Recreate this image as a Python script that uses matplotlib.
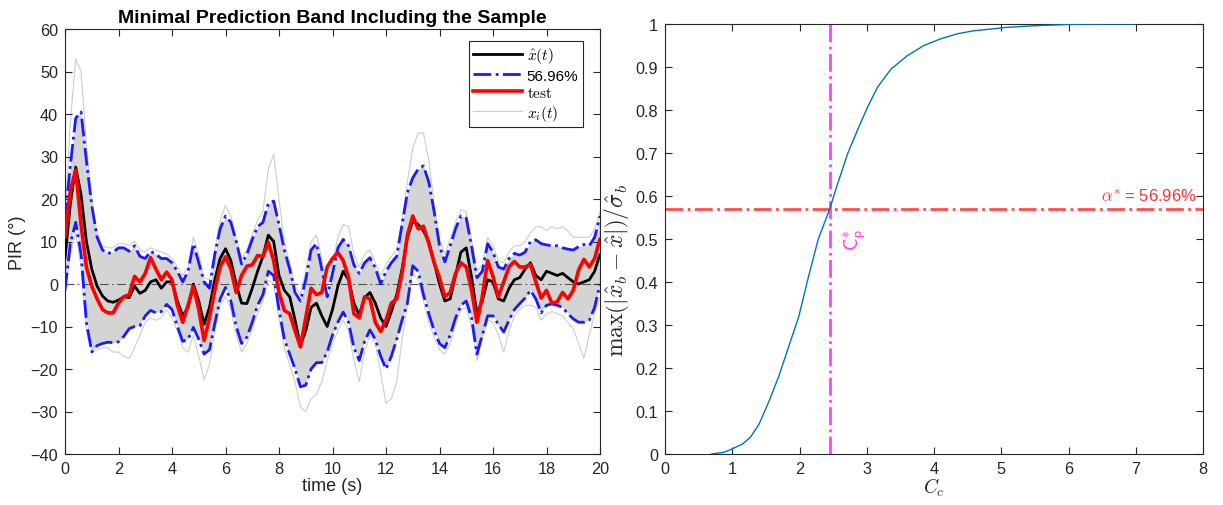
import numpy as np
import matplotlib
matplotlib.use("Agg")
import matplotlib.pyplot as plt
from matplotlib.lines import Line2D

plt.rcParams['font.family'] = ['Liberation Sans', 'DejaVu Sans']
plt.rcParams['mathtext.fontset'] = 'cm'

# ---------------- data (left panel) ----------------
time_s = np.linspace(0, 20, 101)  # sampling grid, 0.2 s

mean_x = [6, 19, 27.5, 21, 10, 3.5, -0.5, -2.8, -4, -4.3,
          -3.8, -3, -3.2, -0.5, -2.2, -1.5, 0.5, 1, -1, 0.5,
          0.5, -4, -7.5, -5.5, 0, -4, -9.5, -5.5, 1, 6,
          8.3, 5.5, 0, -4.5, -4.6, -1, 3, 6.5, 11.5, 10,
          2, -1.5, -3, -8.5, -14.5, -11, -5.5, -4.5, -7.5, -10,
          -6, -0.5, 3, 1, -4.5, -7.3, -3.2, -2, -4.5, -8,
          -10, -6.5, -2.5, 3.5, 11, 14.8, 14, 12.5, 10, 5,
          0, -4, -3.5, 2, 7.5, 8.5, 1.5, -7, -4, 1,
          0.5, -3.5, -4, -1, 1, 1.5, 3.5, 5, 2, 1,
          3, 2.5, 2, 2.5, 1.5, 0.5, 0, 0.5, 1, 3,
          7]

test_x = [11, 22, 26.8, 14, 4, -0.5, -3.5, -6, -6.8, -6.8,
          -4.5, -3, -2.5, 1.8, 0.5, 2.5, 6.2, 3.5, 1, 2.8,
          1, -5, -9, -5, -0.5, -6, -13.3, -8, -1.5, 4,
          6.4, 3.5, -2, 2, 4.2, 4.5, 6.7, 6.5, 9.8, 5.5,
          -2, -6.2, -7, -11, -14.8, -8, -1, -2.5, -2, 4,
          6, 7.4, 5.5, 1.5, -7, -8, -3, -3.5, -9, -11.2,
          -8.5, -4.5, -3.5, 2.5, 11.5, 16, 13, 13.6, 9.5, 5,
          1.5, -3, -2, 2.5, 5, 4, -1.5, -9, -3, 5.5,
          1.8, -3, 0.5, 4, 5.3, 4, 4, 4.6, 0.5, -3.3,
          -1.5, -4.5, -4.2, -2, -3.5, -1.5, 3.3, 5.8, 4, 6,
          10.6]

band_upper = [15, 28, 39, 40.5, 29, 18.5, 11, 8, 7.2, 7.5,
              8.5, 8.5, 7.7, 9, 6.5, 6, 7.7, 7, 6, 6,
              5, 3, 0.5, 3, 9.5, 5, 0.5, -1, 7, 13,
              16, 14.5, 10, 4.7, 7, 10.5, 13.5, 14.5, 19, 19.5,
              14, 8, 3.5, -2, -4, 1, 8, 9.5, 3.5, -3,
              2.5, 8.5, 10.5, 9, 4.5, 2.5, 5, 6.2, 3.8, 0,
              3, 5, 6.5, 14, 21.5, 25, 27, 27.8, 24, 17,
              9, 5.2, 9, 13, 16, 15.5, 8.8, 1.5, 3, 9.5,
              7.5, 4, 3.5, 6, 7.2, 6.8, 7.5, 10, 10.4, 9.5,
              9.2, 9, 9, 8.5, 8.2, 8, 8.8, 9.3, 9, 11,
              16]

band_lower = [-1.5, 9.5, 14.5, 7, -9, -16, -14.5, -14, -13.7, -13.8,
              -13.6, -12.3, -10.5, -10, -9.8, -7.5, -6.2, -6.8, -6.5, -4.8,
              -6, -10, -13.5, -13, -10.2, -13, -16.5, -15.5, -9.3, -3.5,
              -0.8, -4, -10, -14, -12.5, -9, -5, -2.5, 3, 2,
              -6, -13, -16.5, -20, -24.2, -23.8, -20, -18.5, -18.5, -16,
              -12, -9, -6.6, -9, -15, -18, -13.5, -10.8, -13, -17,
              -20, -17, -13, -8.5, -4.5, 4.3, 3, -2.5, -7, -11,
              -14, -15, -12, -8, -5, -4, -8, -16.5, -12, -7.5,
              -7.5, -9.5, -11.3, -8.5, -6, -4.6, -3.3, -1.5, -3.5, -6.8,
              -5, -4.7, -5, -5.5, -7, -8.2, -9, -9, -8.5, -5.5,
              0]

samples_max = [16, 38, 53, 50, 33, 20, 12, 9, 8.5, 8.5,
               9.5, 9.5, 9, 10, 8, 7.5, 8.5, 8, 7.5, 7,
               6, 4, 2, 4, 11, 7, 1.5, 1, 8, 15,
               18.5, 16, 11, 6, 8, 11.5, 15, 17, 27, 30.5,
               20, 10, 5, -0.5, -2.5, 3, 10, 11.5, 6, -1,
               5, 11, 14, 13.5, 7, 4, 7, 8, 5, 2,
               4.5, 6.5, 8, 15, 24, 32, 35.5, 35.5, 29, 19,
               10.5, 7, 10.5, 14.5, 17.5, 17, 10.5, 3, 4.5, 11,
               9, 5.5, 5, 7.5, 9, 9, 10, 12, 13.5, 13.5,
               12.5, 13.5, 13, 13.5, 12.5, 11, 11, 11, 11, 13,
               17]

samples_min = [-3, 7, 12, 4, -11, -16, -15.5, -15, -15, -16,
               -16, -17, -17.5, -15, -12, -9, -8, -8.5, -8, -6,
               -8, -11, -15, -16, -12, -17, -22.5, -19, -11, -5,
               -3, -6, -12, -16, -14, -10.5, -7, -4, 1, 0,
               -8, -15, -19, -23, -29, -30, -27, -26, -23, -18,
               -14, -11, -8.5, -11, -18, -23, -16, -12, -14, -21,
               -28, -27, -23, -13, -5, 2.5, 1, -4, -9, -12.5,
               -15.5, -16.5, -14, -9.5, -6, -5.5, -10, -18, -13, -8.5,
               -9, -12, -16, -11, -7.5, -6, -5, -5, -5.5, -8.5,
               -7, -6.5, -7, -7.5, -9, -10.5, -14, -17.5, -12, -7,
               -3]

band_label = "56.96%"

# ---------------- data (right panel) ----------------
cc_values = [0.69, 0.88, 1.0, 1.15, 1.27, 1.40, 1.54, 1.69, 1.84, 1.99,
             2.13, 2.28, 2.45, 2.57, 2.72, 2.87, 3.01, 3.16, 3.36, 3.60,
             3.85, 4.09, 4.34, 4.58, 4.83, 5.07, 5.5, 6.0, 6.5, 7.0]
coverage = [0.0, 0.004, 0.012, 0.023, 0.039, 0.07, 0.12, 0.18, 0.25, 0.32,
            0.41, 0.50, 0.57, 0.63, 0.70, 0.756, 0.806, 0.853, 0.895, 0.926,
            0.950, 0.965, 0.977, 0.984, 0.988, 0.992, 0.996, 0.999, 1.0, 1.0]
alpha_star = 0.5696
cp_star = 2.45

# ---------------- figure ----------------
fig = plt.figure(figsize=(12.23, 5.06), dpi=100)
axL = fig.add_axes([65/1223, 51/506, 535/1223, 425/506])
axR = fig.add_axes([665/1223, 51/506, 538/1223, 430/506])

tick_col = '#262626'
grey = '#cccccc'
rnd = dict(solid_joinstyle='round', solid_capstyle='round')

# left panel
axL.fill_between(time_s, band_lower, band_upper, color='#d4d4d4', lw=0, zorder=1)
axL.plot(time_s, samples_max, color=grey, lw=0.8, zorder=1.5, **rnd)
axL.plot(time_s, samples_min, color=grey, lw=0.8, zorder=1.5, **rnd)
axL.axhline(0, color='#555555', lw=0.8, ls=(0, (8, 3, 1.5, 3)), zorder=2)
axL.plot(time_s, band_upper, color='#1a1aff', lw=2, ls='-.', zorder=3)
axL.plot(time_s, band_lower, color='#1a1aff', lw=2, ls='-.', zorder=3)
axL.plot(time_s, mean_x, color='black', lw=2, zorder=4, **rnd)
axL.plot(time_s, test_x, color='#ff0000', lw=2.6, zorder=5, **rnd)

axL.set_xlim(0, 20)
axL.set_ylim(-40, 60)
axL.set_xticks(np.arange(0, 21, 2))
axL.set_yticks(np.arange(-40, 61, 10))
axL.set_xlabel('time (s)', fontsize=13, color=tick_col, labelpad=1)
axL.set_ylabel('PIR (°)', fontsize=13, color=tick_col, labelpad=3)
axL.set_title('Minimal Prediction Band Including the Sample', fontsize=14,
              fontweight='bold', pad=5)

handles = [Line2D([], [], color='black', lw=2),
           Line2D([], [], color='#1a1aff', lw=2, ls='-.'),
           Line2D([], [], color='#ff0000', lw=2.6),
           Line2D([], [], color=grey, lw=0.8)]
labels = [r'$\hat{x}(t)$', band_label, r'$\mathrm{test}$', r'$x_i(t)$']
leg = axL.legend(handles, labels, loc='upper right', bbox_to_anchor=(0.968, 0.972),
                 borderaxespad=0, fancybox=False, framealpha=1, edgecolor='#262626',
                 fontsize=11, handlelength=3.2, handletextpad=0.3,
                 labelspacing=0.2, borderpad=0.3)
leg.get_frame().set_linewidth(0.8)

# right panel
axR.plot(cc_values, coverage, color='#0072BD', lw=1, zorder=3, **rnd)
axR.axhline(alpha_star, color='#ff4d4d', lw=2, ls='-.', zorder=2)
axR.axvline(cp_star, color='#ff40ff', lw=2, ls='-.', zorder=2)
axR.text(7.9, alpha_star + 0.012, r'$\alpha^{*}$' + ' = 56.96%', color='#ff3030',
         fontsize=12, ha='right', va='bottom')
axR.text(2.84, 0.50, r'$\mathsf{C}^{*}_{\mathsf{p}}$',
         color='#ff33ff', fontsize=14, rotation=90, ha='center', va='center')
axR.set_xlim(0, 8)
axR.set_ylim(0, 1)
axR.set_xticks(np.arange(0, 9, 1))
axR.set_yticks(np.arange(0, 1.01, 0.1))
axR.set_yticklabels(['0', '0.1', '0.2', '0.3', '0.4', '0.5', '0.6', '0.7', '0.8', '0.9', '1'])
axR.set_xlabel(r'$C_c$', fontsize=14, color=tick_col, labelpad=0)
axR.set_ylabel(r'$\max\left(|\hat{x}_b-\hat{x}|\right)/\hat{\sigma}_b$', fontsize=17,
               color=tick_col)
axR.yaxis.set_label_coords(-0.063, 0.43)

for ax in (axL, axR):
    ax.tick_params(direction='in', top=True, right=True, length=5, width=0.8,
                   labelsize=11.7, colors=tick_col, pad=5)
    for s in ax.spines.values():
        s.set_linewidth(0.8)
        s.set_color(tick_col)

fig.savefig('out.png', dpi=100)
